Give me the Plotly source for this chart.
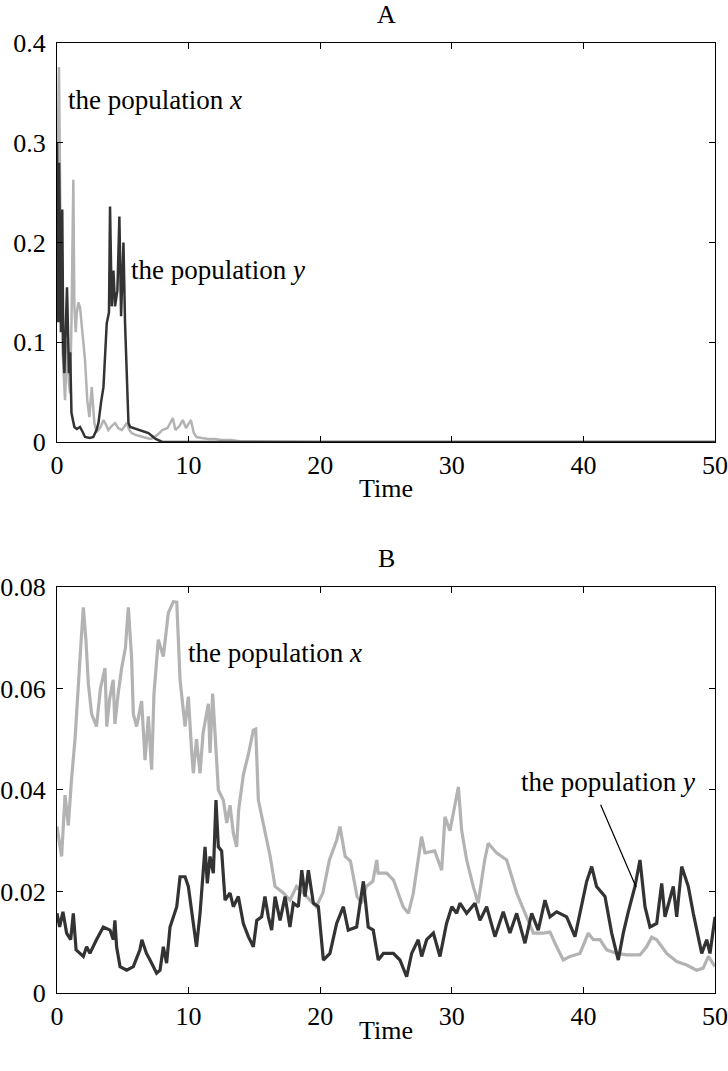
import plotly.graph_objects as go

# ---------------- Panel A data ----------------
tA_x = [0.0, 0.08, 0.15, 0.25, 0.4, 0.5, 0.61, 0.7, 0.81, 0.9, 0.99, 1.1, 1.17, 1.24, 1.32, 1.42, 1.5, 1.62, 1.75, 1.88, 2.0,
        2.13, 2.3, 2.46, 2.64, 2.84, 3.0, 3.15, 3.35, 3.53, 3.7, 3.9, 4.15, 4.41, 4.65, 4.92, 5.1, 5.3, 5.5, 5.68, 6.0, 6.45,
        7.08, 7.3, 7.7, 8.0, 8.4, 8.8, 9.0, 9.3, 9.56, 9.8, 10.0, 10.17, 10.4, 10.6, 11.0, 11.5, 12.0, 12.5, 13.2, 14.0, 20.0, 50.0]
xA = [0.24, 0.33, 0.376, 0.236, 0.1, 0.07, 0.042, 0.075, 0.102, 0.06, 0.049, 0.12, 0.2, 0.263, 0.136, 0.11, 0.129, 0.14, 0.135,
      0.119, 0.1, 0.082, 0.042, 0.025, 0.055, 0.019, 0.01, 0.012, 0.016, 0.022, 0.018, 0.012, 0.016, 0.019, 0.014, 0.012, 0.015,
      0.019, 0.012, 0.009, 0.007, 0.005, 0.003, 0.004, 0.008, 0.012, 0.014, 0.024, 0.012, 0.016, 0.022, 0.014, 0.018, 0.022,
      0.009, 0.005, 0.004, 0.003, 0.003, 0.002, 0.002, 0.0005, 0.0, 0.0]

tA_y = [0.0, 0.1, 0.16, 0.23, 0.3, 0.4, 0.48, 0.56, 0.66, 0.76, 0.91, 1.0, 1.1, 1.32, 1.5, 1.75, 1.95, 2.13, 2.5, 2.76, 3.0,
        3.15, 3.35, 3.53, 3.78, 3.95, 4.03, 4.1, 4.16, 4.29, 4.41, 4.59, 4.74, 4.87, 5.05, 5.17, 5.3, 5.43, 5.56, 6.19, 6.95,
        7.5, 8.0, 50.0]
yA = [0.3, 0.12, 0.28, 0.2, 0.11, 0.233, 0.09, 0.069, 0.11, 0.155, 0.069, 0.09, 0.029, 0.015, 0.013, 0.015, 0.01, 0.005,
      0.004, 0.005, 0.012, 0.019, 0.04, 0.055, 0.119, 0.13, 0.236, 0.16, 0.136, 0.172, 0.136, 0.152, 0.226, 0.126, 0.2, 0.119,
      0.07, 0.019, 0.015, 0.012, 0.009, 0.003, 0.0, 0.0]

# ---------------- Panel B data ----------------
tB_x = [0.0, 0.35, 0.61, 0.86, 1.1, 1.37, 1.75, 2.0, 2.2, 2.38, 2.63, 3.0, 3.3, 3.65, 3.78, 4.0, 4.27, 4.4, 4.65, 4.91, 5.2,
        5.42, 5.67, 5.8, 6.05, 6.43, 6.69, 6.94, 7.19, 7.37, 7.7, 8.08, 8.46, 8.84, 9.1, 9.35, 9.73, 9.98, 10.24, 10.36, 10.6,
        10.87, 11.1, 11.5, 11.63, 11.83, 12.13, 12.26, 12.64, 12.9, 13.15, 13.4, 13.65, 13.8, 14.16, 14.54, 14.92, 15.1, 15.3,
        15.68, 16.2, 16.57, 17.2, 17.7, 18.2, 18.97, 19.7, 20.2, 20.7, 21.25, 21.5, 21.9, 22.3, 22.8, 23.15, 23.5, 24.0, 24.3,
        24.4, 25.05, 25.56, 26.3, 26.7, 27.07, 27.45, 27.7, 27.96, 28.7, 29.23, 29.48, 29.86, 30.24, 30.5, 30.75, 31.13, 31.63,
        32.0, 32.5, 32.77, 33.4, 34.17, 34.93, 35.69, 36.2, 36.95, 37.46, 37.97, 38.47, 38.98, 39.74, 40.37, 40.75, 41.26,
        41.77, 42.53, 43.3, 44.3, 44.8, 45.19, 45.57, 46.33, 47.09, 47.85, 48.6, 49.1, 49.5, 50.0]
xB = [0.0328, 0.0269, 0.039, 0.033, 0.042, 0.05, 0.066, 0.076, 0.0695, 0.061, 0.055, 0.0525, 0.06, 0.064, 0.0525, 0.058,
      0.0617, 0.053, 0.059, 0.064, 0.068, 0.076, 0.066, 0.055, 0.0525, 0.0575, 0.0459, 0.0545, 0.044, 0.059, 0.0696, 0.0663,
      0.0749, 0.0771, 0.077, 0.0617, 0.0525, 0.0584, 0.0473, 0.0433, 0.05, 0.0433, 0.0512, 0.057, 0.0473, 0.059, 0.0459,
      0.04, 0.038, 0.0335, 0.037, 0.0315, 0.0288, 0.036, 0.043, 0.047, 0.0518, 0.052, 0.038, 0.0335, 0.0269, 0.021, 0.0197,
      0.0183, 0.021, 0.019, 0.017, 0.0197, 0.0262, 0.0301, 0.0328, 0.0269, 0.026, 0.019, 0.0177, 0.021, 0.022, 0.0262,
      0.0236, 0.0236, 0.0223, 0.017, 0.0157, 0.0196, 0.0262, 0.0308, 0.0276, 0.028, 0.0242, 0.0347, 0.032, 0.0367, 0.0406,
      0.032, 0.0262, 0.021, 0.0177, 0.0262, 0.0295, 0.0276, 0.0262, 0.0197, 0.015, 0.0118, 0.0118, 0.012, 0.0091, 0.0065,
      0.0072, 0.0078, 0.0118, 0.0105, 0.0105, 0.0085, 0.0078, 0.0075, 0.0075, 0.0091, 0.011, 0.0105, 0.0078, 0.0062, 0.0055,
      0.0045, 0.0049, 0.0072, 0.0052]

tB_y = [0.0, 0.2, 0.45, 0.73, 1.04, 1.24, 1.45, 2.0, 2.25, 2.5, 3.0, 3.52, 4.03, 4.28, 4.4, 4.53, 4.79, 5.3, 5.8, 6.3, 6.45,
        6.8, 7.07, 7.57, 7.83, 8.08, 8.33, 8.59, 9.1, 9.35, 9.73, 9.98, 10.36, 10.6, 10.87, 11.25, 11.42, 11.63, 11.88, 12.08,
        12.26, 12.51, 12.77, 13.15, 13.4, 13.78, 14.16, 14.54, 14.92, 15.18, 15.55, 15.8, 16.06, 16.31, 16.57, 16.95, 17.33,
        17.7, 17.96, 18.34, 18.6, 18.85, 19.1, 19.48, 19.86, 20.24, 20.74, 21.25, 21.76, 22.13, 22.77, 23.28, 23.65, 24.03,
        24.41, 24.8, 25.56, 26.06, 26.57, 26.95, 27.45, 27.71, 28.09, 28.6, 29.1, 29.6, 30.0, 30.37, 30.62, 31.13, 31.76, 32.14,
        32.65, 33.28, 33.91, 34.42, 34.93, 35.56, 36.07, 36.57, 37.08, 37.46, 37.97, 38.73, 39.36, 39.74, 40.25, 40.63, 41.0,
        41.64, 42.15, 42.65, 43.03, 43.41, 43.92, 44.3, 44.68, 45.06, 45.57, 45.95, 46.2, 46.83, 47.09, 47.47, 47.97, 48.35,
        48.99, 49.37, 49.62, 50.0]
yB = [0.0157, 0.013, 0.016, 0.0118, 0.0105, 0.0157, 0.0085, 0.0072, 0.0091, 0.0078, 0.0105, 0.013, 0.0124, 0.0105, 0.0143,
      0.0091, 0.0052, 0.0045, 0.0052, 0.0085, 0.0105, 0.0078, 0.0065, 0.0039, 0.0045, 0.0091, 0.0059, 0.013, 0.017, 0.0229,
      0.0229, 0.021, 0.0137, 0.0091, 0.0157, 0.0288, 0.0216, 0.0269, 0.0236, 0.038, 0.0288, 0.028, 0.0183, 0.0197, 0.017,
      0.019, 0.0137, 0.0111, 0.0091, 0.0143, 0.015, 0.019, 0.015, 0.0124, 0.019, 0.0143, 0.019, 0.013, 0.0177, 0.017, 0.0242,
      0.019, 0.0242, 0.0177, 0.017, 0.0065, 0.0078, 0.0137, 0.017, 0.0124, 0.013, 0.022, 0.013, 0.0124, 0.0065, 0.0078,
      0.0078, 0.0065, 0.0032, 0.0078, 0.0105, 0.0072, 0.0105, 0.0118, 0.0072, 0.0137, 0.017, 0.0157, 0.0177, 0.0157, 0.0177,
      0.0143, 0.017, 0.0111, 0.016, 0.0118, 0.0157, 0.0098, 0.0157, 0.0124, 0.0183, 0.015, 0.016, 0.015, 0.0111, 0.0157,
      0.022, 0.0249, 0.021, 0.019, 0.0118, 0.0065, 0.0118, 0.016, 0.021, 0.0262, 0.017, 0.013, 0.0137, 0.0216, 0.015, 0.021,
      0.015, 0.0249, 0.021, 0.0157, 0.0078, 0.0105, 0.0078, 0.015]

x_ticks = [0, 10, 20, 30, 40, 50]
yA_ticks = [0, 0.1, 0.2, 0.3, 0.4]
yA_labels = ["0", "0.1", "0.2", "0.3", "0.4"]
yB_ticks = [0, 0.02, 0.04, 0.06, 0.08]
yB_labels = ["0", "0.02", "0.04", "0.06", "0.08"]

GRAY = "#b3b3b3"
DARK = "#333333"
FONT = "Liberation Serif"
FS = 26

fig = go.Figure()
fig.add_trace(go.Scatter(x=tA_x, y=xA, mode="lines", line=dict(color=GRAY, width=2.5), xaxis="x", yaxis="y"))
fig.add_trace(go.Scatter(x=tA_y, y=yA, mode="lines", line=dict(color=DARK, width=2.5), xaxis="x", yaxis="y"))
fig.add_trace(go.Scatter(x=tB_x, y=xB, mode="lines", line=dict(color=GRAY, width=3.2), xaxis="x2", yaxis="y2"))
fig.add_trace(go.Scatter(x=tB_y, y=yB, mode="lines", line=dict(color=DARK, width=3.2), xaxis="x2", yaxis="y2"))

axis_common = dict(showline=True, linecolor="black", linewidth=1.3, mirror="ticks", ticks="inside",
                   ticklen=6, tickwidth=1.2, tickcolor="black", showgrid=False, zeroline=False,
                   automargin=False, tickfont=dict(family=FONT, size=FS, color="black"))

fig.update_layout(
    width=728, height=1071,
    margin=dict(l=57, r=13, t=43, b=78, autoexpand=False),
    paper_bgcolor="white", plot_bgcolor="white",
    showlegend=False,
    xaxis=dict(domain=[0, 1], range=[0, 50], tickvals=x_ticks, anchor="y", **axis_common),
    yaxis=dict(domain=[0.58, 1.0], range=[0, 0.4], tickvals=yA_ticks, ticktext=yA_labels, anchor="x",
               ticklabelstandoff=5, **axis_common),
    xaxis2=dict(domain=[0, 1], range=[0, 50], tickvals=x_ticks, anchor="y2", **axis_common),
    yaxis2=dict(domain=[0, 0.4274], range=[0, 0.08], tickvals=yB_ticks, ticktext=yB_labels, anchor="x2",
                ticklabelstandoff=5, **axis_common),
)

tf = dict(family=FONT, size=FS, color="black")
lf = dict(family=FONT, size=27, color="black")
ann = [
    dict(text="A", x=0.5, y=(993 - 15) / 950, xref="paper", yref="paper", showarrow=False, font=tf, yanchor="middle"),
    dict(text="B", x=0.5, y=(993 - 558) / 950, xref="paper", yref="paper", showarrow=False, font=tf, yanchor="middle"),
    dict(text="Time", x=0.5, y=(993 - 488) / 950, xref="paper", yref="paper", showarrow=False, font=tf, yanchor="middle"),
    dict(text="Time", x=0.5, y=(993 - 1030) / 950, xref="paper", yref="paper", showarrow=False, font=tf, yanchor="middle"),
    dict(text="the population <i>x</i>", x=0.7, y=0.343, xref="x", yref="y", showarrow=False, font=lf,
         xanchor="left", yanchor="middle"),
    dict(text="the population <i>y</i>", x=5.5, y=0.172, xref="x", yref="y", showarrow=False, font=lf,
         xanchor="left", yanchor="middle"),
    dict(text="the population <i>x</i>", x=9.8, y=0.067, xref="x2", yref="y2", showarrow=False, font=lf,
         xanchor="left", yanchor="middle"),
    dict(text="the population <i>y</i>", x=48.6, y=0.0416, xref="x2", yref="y2", showarrow=False, font=lf,
         xanchor="right", yanchor="middle"),
    dict(text="", x=44.0, y=0.0209, xref="x2", yref="y2", ax=41.26, ay=0.0374, axref="x2", ayref="y2",
         showarrow=True, arrowhead=0, arrowwidth=1.2, arrowcolor="black"),
]
fig.update_layout(annotations=ann)

fig.write_html("out.html", config={"displayModeBar": False},
               post_script="document.body.style.margin='0';document.body.style.overflow='hidden';")
